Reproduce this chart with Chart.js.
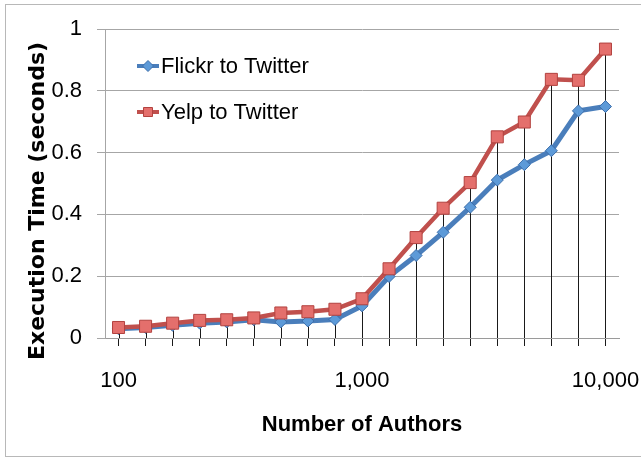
<!DOCTYPE html>
<html>
<head>
<meta charset="utf-8">
<script src="https://cdn.jsdelivr.net/npm/chart.js@4.4.0/dist/chart.umd.min.js"></script>
<style>
  html, body { margin: 0; padding: 0; background: #fff; }
  #wrap { width: 641px; height: 458px; }
</style>
</head>
<body>
<div id="wrap"><canvas id="timeChart" width="641" height="458"></canvas></div>
<script>
// number of authors (log-spaced, 9 steps per decade)
var authors = [100, 129, 167, 215, 278, 359, 464, 599, 774, 1000, 1292, 1668, 2154, 2783, 3594, 4642, 5995, 7743, 10000];
var xTickLabels = ['100', '', '', '', '', '', '', '', '', '1,000', '', '', '', '', '', '', '', '', '10,000'];
var flickrTimes = [0.030, 0.034, 0.041, 0.048, 0.052, 0.059, 0.052, 0.055, 0.060, 0.104, 0.199, 0.267, 0.342, 0.423, 0.511, 0.561, 0.606, 0.735, 0.749];
var yelpTimes = [0.034, 0.038, 0.048, 0.057, 0.059, 0.065, 0.081, 0.085, 0.093, 0.127, 0.224, 0.325, 0.420, 0.503, 0.651, 0.699, 0.837, 0.834, 0.935];
var seriesNames = ['Flickr to Twitter', 'Yelp to Twitter'];

var tickFont = { family: 'Liberation Sans, Arial, sans-serif', size: 22 };

// white background + outer frame (right side runs off the picture)
var framePlugin = {
    id: 'frame',
    beforeDraw: function(chart) {
        var ctx = chart.ctx;
        ctx.save();
        ctx.fillStyle = '#fff';
        ctx.fillRect(0, 0, chart.width, chart.height);
        ctx.strokeStyle = '#b8b8b8';
        ctx.lineWidth = 1;
        ctx.strokeRect(5.5, 4.5, chart.width + 10, chart.height - 6);
        ctx.restore();
    }
};

// vertical drop lines from the highest point down to the axis
var dropLinePlugin = {
    id: 'dropLines',
    beforeDatasetsDraw: function(chart) {
        var ctx = chart.ctx;
        var xs = chart.scales.x, ys = chart.scales.y;
        ctx.save();
        ctx.strokeStyle = '#1a1a1a';
        ctx.lineWidth = 1;
        for (var i = 0; i < authors.length; i++) {
            var top = Math.max(flickrTimes[i], yelpTimes[i]);
            var px = Math.round(xs.getPixelForValue(i)) + 0.5;
            ctx.beginPath();
            ctx.moveTo(px, ys.getPixelForValue(top));
            ctx.lineTo(px, ys.getPixelForValue(0));
            ctx.stroke();
        }
        ctx.restore();
    }
};

// legend inside the plot, line + marker like the original
var legendPlugin = {
    id: 'insideLegend',
    afterDraw: function(chart) {
        var ctx = chart.ctx;
        var rows = [66, 112];
        ctx.save();
        chart.data.datasets.forEach(function(ds, i) {
            var y = rows[i];
            ctx.strokeStyle = ds.borderColor;
            ctx.lineWidth = 4;
            ctx.beginPath();
            ctx.moveTo(137, y);
            ctx.lineTo(159, y);
            ctx.stroke();
            ctx.fillStyle = ds.pointBackgroundColor;
            ctx.strokeStyle = ds.pointBorderColor;
            ctx.lineWidth = 1;
            ctx.beginPath();
            if (ds.pointStyle === 'rect') {
                ctx.rect(143.5, y - 4.5, 9, 9);
            } else {
                ctx.moveTo(148, y - 5.5); ctx.lineTo(153.5, y); ctx.lineTo(148, y + 5.5); ctx.lineTo(142.5, y);
                ctx.closePath();
            }
            ctx.fill();
            ctx.stroke();
            ctx.fillStyle = '#000';
            ctx.font = '22px "Liberation Sans", Arial, sans-serif';
            ctx.textBaseline = 'middle';
            ctx.fillText(ds.label, 161, y + 1);
        });
        ctx.restore();
    }
};

// rotated y-axis title
var yTitlePlugin = {
    id: 'yTitle',
    afterDraw: function(chart) {
        var ctx = chart.ctx;
        ctx.save();
        ctx.translate(38, 201);
        ctx.rotate(-Math.PI / 2);
        ctx.font = 'bold 22px "DejaVu Sans", Verdana, sans-serif';
        ctx.fillStyle = '#000';
        ctx.textAlign = 'center';
        ctx.textBaseline = 'middle';
        ctx.fillText('Execution Time (seconds)', 0, 0);
        ctx.restore();
    }
};

var ctx = document.getElementById('timeChart').getContext('2d');
var timeChart = new Chart(ctx, {
    type: 'line',
    data: {
        labels: xTickLabels,
        datasets: [{
            label: seriesNames[0],
            data: flickrTimes,
            borderColor: '#4a7ebb',
            borderWidth: 5,
            pointStyle: 'rectRot',
            pointRadius: 6,
            pointBackgroundColor: '#5d9ad8',
            pointBorderColor: '#3d6eaa',
            pointBorderWidth: 1,
            tension: 0,
            order: 1
        }, {
            label: seriesNames[1],
            data: yelpTimes,
            borderColor: '#c0504d',
            borderWidth: 4.5,
            pointStyle: 'rect',
            pointRadius: 8.5,
            pointBackgroundColor: '#e46f6c',
            pointBorderColor: '#b2423f',
            pointBorderWidth: 1,
            tension: 0,
            order: 0
        }]
    },
    options: {
        responsive: false,
        animation: false,
        layout: {
            padding: { left: 5, right: 22, top: 29, bottom: 0 }
        },
        plugins: {
            legend: { display: false },
            tooltip: { enabled: false }
        },
        scales: {
            x: {
                type: 'category',
                offset: true,
                afterFit: function(scale) {
                    scale.height = 120;
                    scale.paddingLeft = 0;
                    scale.paddingRight = 0;
                },
                grid: {
                    drawOnChartArea: false,
                    drawTicks: true,
                    tickLength: 8,
                    tickColor: '#1a1a1a',
                    offset: false
                },
                border: { color: '#9a9a9a' },
                ticks: {
                    autoSkip: false,
                    maxRotation: 0,
                    padding: 22,
                    color: '#000',
                    font: tickFont
                },
                title: {
                    display: true,
                    text: 'Number of Authors',
                    color: '#000',
                    font: { family: 'Liberation Sans, Arial, sans-serif', size: 22, weight: 'bold' },
                    padding: { top: 0, bottom: 20 }
                }
            },
            y: {
                min: 0,
                max: 1,
                afterFit: function(scale) {
                    scale.width = 100;
                    scale.paddingTop = 0;
                    scale.paddingBottom = 0;
                },
                grid: {
                    color: '#a6a6a6',
                    tickColor: '#a6a6a6',
                    tickLength: 8
                },
                border: { color: '#a6a6a6' },
                ticks: {
                    stepSize: 0.2,
                    padding: 15,
                    color: '#000',
                    font: tickFont,
                    callback: function(value) { return String(Math.round(value * 10) / 10); }
                }
            }
        }
    },
    plugins: [framePlugin, dropLinePlugin, legendPlugin, yTitlePlugin]
});
</script>
</body>
</html>
